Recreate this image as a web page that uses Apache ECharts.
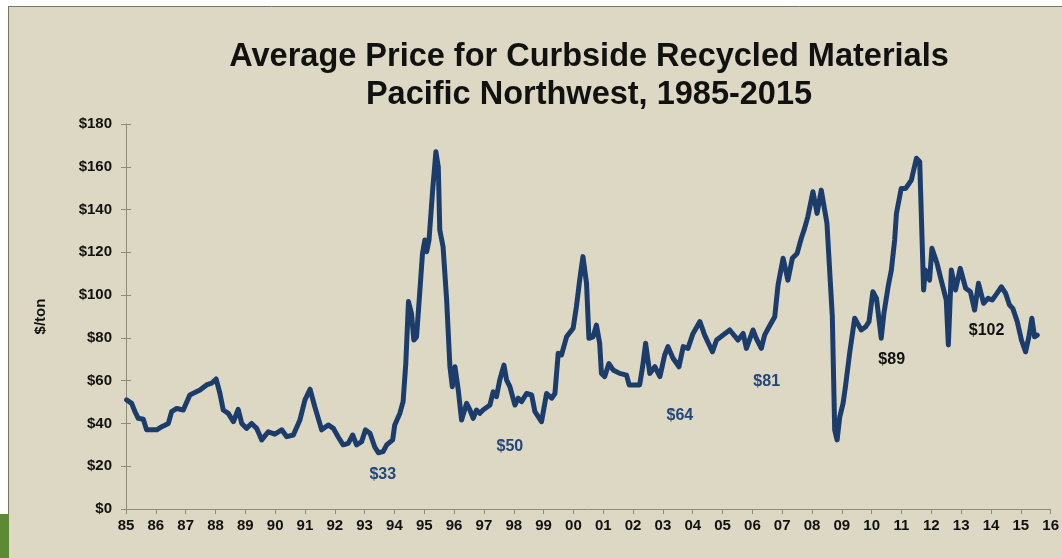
<!DOCTYPE html>
<html>
<head>
<meta charset="utf-8">
<script src="https://cdn.jsdelivr.net/npm/echarts@6/dist/echarts.min.js"></script>
<style>
  html, body { margin: 0; padding: 0; background: #ffffff; }
  #chart { width: 1062px; height: 558px; }
</style>
</head>
<body>
<div id="chart"></div>
<script>
// time (decimal years) and average price ($/ton)
const years = [
  1985.02, 1985.19, 1985.30, 1985.41, 1985.58, 1985.69, 1986.03, 1986.20, 1986.42, 1986.53,
  1986.70, 1986.92, 1987.14, 1987.48, 1987.70, 1987.87, 1988.02, 1988.15, 1988.26, 1988.43,
  1988.60, 1988.76, 1988.88, 1989.04, 1989.21, 1989.38, 1989.55, 1989.77, 1989.99, 1990.22,
  1990.39, 1990.61, 1990.83, 1991.00, 1991.17, 1991.33, 1991.56, 1991.78, 1991.95, 1992.11,
  1992.28, 1992.45, 1992.60, 1992.73, 1992.90, 1993.03, 1993.18, 1993.34, 1993.46, 1993.62,
  1993.74, 1993.94, 1994.01, 1994.18, 1994.29, 1994.38, 1994.47, 1994.57, 1994.65, 1994.74,
  1994.83, 1994.94, 1995.02, 1995.08, 1995.16, 1995.28, 1995.39, 1995.47, 1995.52, 1995.63,
  1995.75, 1995.86, 1995.94, 1996.03, 1996.14, 1996.25, 1996.42, 1996.53, 1996.64, 1996.75,
  1996.86, 1996.97, 1997.20, 1997.31, 1997.42, 1997.53, 1997.67, 1997.76, 1997.87, 1998.04,
  1998.15, 1998.26, 1998.43, 1998.60, 1998.71, 1998.93, 1999.10, 1999.27, 1999.38, 1999.49,
  1999.60, 1999.77, 1999.99, 2000.10, 2000.21, 2000.32, 2000.44, 2000.52, 2000.66, 2000.77,
  2000.88, 2000.94, 2001.05, 2001.19, 2001.33, 2001.55, 2001.78, 2001.87, 2002.22, 2002.32,
  2002.42, 2002.56, 2002.73, 2002.90, 2003.06, 2003.17, 2003.34, 2003.54, 2003.68, 2003.84,
  2004.01, 2004.24, 2004.40, 2004.66, 2004.80, 2005.02, 2005.24, 2005.52, 2005.69, 2005.80,
  2006.02, 2006.13, 2006.30, 2006.41, 2006.56, 2006.75, 2006.86, 2007.03, 2007.19, 2007.34,
  2007.50, 2007.64, 2007.75, 2007.86, 2008.03, 2008.17, 2008.31, 2008.50, 2008.68, 2008.76,
  2008.84, 2008.93, 2009.04, 2009.12, 2009.26, 2009.43, 2009.65, 2009.80, 2009.91, 2010.04,
  2010.16, 2010.32, 2010.41, 2010.55, 2010.66, 2010.77, 2010.83, 2010.99, 2011.14, 2011.33,
  2011.50, 2011.61, 2011.74, 2011.80, 2011.94, 2012.02, 2012.19, 2012.33, 2012.50, 2012.57,
  2012.67, 2012.81, 2012.97, 2013.15, 2013.31, 2013.45, 2013.58, 2013.75, 2013.90, 2014.04,
  2014.20, 2014.35, 2014.49, 2014.62, 2014.73, 2014.88, 2015.02, 2015.16, 2015.27, 2015.37,
  2015.46, 2015.55, 2015.71
];
const prices = [
  51, 49.4, 45.5, 42.4, 42, 37, 37, 38.5, 40, 45.5,
  47, 46.3, 53.3, 55.6, 58, 58.8, 60.8, 54, 46.3, 44.7,
  40.8, 46.6, 40, 37.7, 40, 37.7, 32.3, 36.1, 35, 37,
  33.8, 34.6, 41.6, 51, 56, 47.8, 37, 39.3, 37.7, 33.8,
  30, 30.7, 34.6, 30, 31.5, 37, 35.4, 29, 26.3, 26.8,
  30, 32.3, 39.3, 44.7, 50.2, 68, 97, 91.5, 79, 80.5,
  97.7, 119.5, 125.8, 120.3, 125.8, 149, 167, 160, 130.4, 122.6,
  97.7, 66.5, 57.2, 66.5, 55.6, 41.6, 49.4, 46.3, 42.4, 46.3,
  44.7, 46.3, 48.6, 54.8, 52.5, 60.3, 67.3, 60.3, 57.2, 48.6,
  51.8, 50.2, 54, 53.3, 45.5, 40.8, 54, 51.8, 54, 72.8,
  72, 80.5, 84.5, 94.6, 107, 118, 105.5, 79.8, 80.5, 86,
  77.5, 63.4, 61.9, 68, 65, 63.4, 62.6, 58, 58, 66.5,
  77.5, 63.4, 66.5, 61.9, 72, 75.9, 70.5, 66.5, 75.9, 75.1,
  82.1, 87.6, 81.3, 73.5, 79, 81.3, 83.7, 79, 82.1, 75.1,
  83.7, 79.8, 75.1, 81.3, 85.2, 89.9, 104.7, 117.2, 107, 117.2,
  119.5, 126.6, 131.2, 136.7, 148.3, 138.2, 149.1, 133.6, 89.9, 37,
  32.3, 43.1, 49.4, 57.2, 72.8, 89.2, 83.7, 85.2, 87.6, 101.6,
  98.5, 79.8, 91.5, 103.9, 111.7, 125.8, 138.2, 149.9, 149.9, 153.8,
  164, 162.4, 102.4, 111.7, 107, 121.9, 114.9, 107, 97.7, 76.7,
  111.7, 102.4, 112.5, 103.2, 101.6, 93, 105.5, 96.2, 98.5, 97.7,
  100.8, 103.9, 100.8, 95.4, 93.8, 87.6, 79, 73.5, 80.5, 89.2,
  80.5, 81.3
];

// average price labels written under the line
const noteTexts = ['$33', '$50', '$64', '$81', '$89', '$102'];
const noteYears = [1993.61, 1997.87, 2003.57, 2006.48, 2010.67, 2013.85];
const noteValues = [15.9, 29, 43.9, 59.8, 69.7, 83.2];
const noteColors = ['#23477a', '#23477a', '#23477a', '#23477a', '#111111', '#111111'];

const yTicks = { min: 0, max: 180, interval: 20 };
const xTicks = { min: 1985, max: 2016, interval: 1 };

const lineData = years.map((y, i) => [y, prices[i]]);
const noteData = noteTexts.map((t, i) => ({
  value: [noteYears[i], noteValues[i]],
  label: { formatter: t, color: noteColors[i] }
}));

const axisColor = '#8f8b78';
const font = '"Liberation Sans", Arial, sans-serif';

const chart = echarts.init(document.getElementById('chart'), null, { renderer: 'canvas' });
chart.setOption({
  backgroundColor: '#ffffff',
  animation: false,
  graphic: [
    { type: 'rect', shape: { x: 8, y: 6, width: 1054, height: 552 }, style: { fill: '#ddd8c3' }, z: -10 },
    { type: 'line', shape: { x1: 8, y1: 6.5, x2: 1062, y2: 6.5 }, style: { stroke: '#77756a', lineWidth: 1 }, z: -5 },
    { type: 'line', shape: { x1: 8.5, y1: 6, x2: 8.5, y2: 514 }, style: { stroke: '#77756a', lineWidth: 1 }, z: -5 },
    { type: 'rect', shape: { x: 0, y: 514, width: 9, height: 44 }, style: { fill: '#5e8a36' }, z: -5 },
    {
      type: 'text', x: 589, y: 38,
      style: {
        text: 'Average Price for Curbside Recycled Materials\nPacific Northwest, 1985-2015',
        font: 'bold 32.5px ' + font, fill: '#111111',
        align: 'center', verticalAlign: 'top', lineHeight: 38
      }
    }
  ],
  grid: { left: 126, right: 11, top: 124, bottom: 49, containLabel: false },
  xAxis: {
    type: 'value',
    min: xTicks.min, max: xTicks.max, interval: xTicks.interval,
    axisLine: { lineStyle: { color: axisColor, width: 1 } },
    axisTick: { length: 5, lineStyle: { color: axisColor } },
    splitLine: { show: false },
    axisLabel: {
      margin: 9, color: '#111111', fontWeight: 'bold', fontSize: 15, fontFamily: font,
      formatter: v => String(Math.round(v) % 100).padStart(2, '0')
    }
  },
  yAxis: [{
    type: 'value',
    min: yTicks.min, max: yTicks.max, interval: yTicks.interval,
    name: '$/ton', nameLocation: 'middle', nameGap: 78,
    nameTextStyle: { color: '#111111', fontWeight: 'bold', fontSize: 15, fontFamily: font },
    axisLine: { show: true, lineStyle: { color: axisColor, width: 1 } },
    axisTick: { show: true, length: 5, lineStyle: { color: axisColor } },
    splitLine: { show: false },
    axisLabel: {
      margin: 14, color: '#111111', fontWeight: 'bold', fontSize: 15, fontFamily: font,
      formatter: v => '$' + v
    }
  }, {
    type: 'value',
    min: yTicks.min, max: yTicks.max, interval: yTicks.interval,
    position: 'left',
    axisLine: { show: false },
    axisTick: { show: true, inside: true, length: 5, lineStyle: { color: axisColor } },
    axisLabel: { show: false },
    splitLine: { show: false }
  }],
  series: [{
    name: 'Average price',
    type: 'line',
    data: lineData,
    showSymbol: false,
    symbol: 'none',
    lineStyle: { color: '#1c3d6c', width: 5, join: 'round', cap: 'round' },
    z: 3
  }, {
    name: 'Notes',
    type: 'scatter',
    data: noteData,
    symbolSize: 1,
    itemStyle: { color: 'transparent', opacity: 1 },
    label: {
      show: true, position: 'inside', fontWeight: 'bold', fontSize: 16, fontFamily: font,
      textBorderWidth: 0, opacity: 1
    },
    z: 4
  }]
});
</script>
</body>
</html>
